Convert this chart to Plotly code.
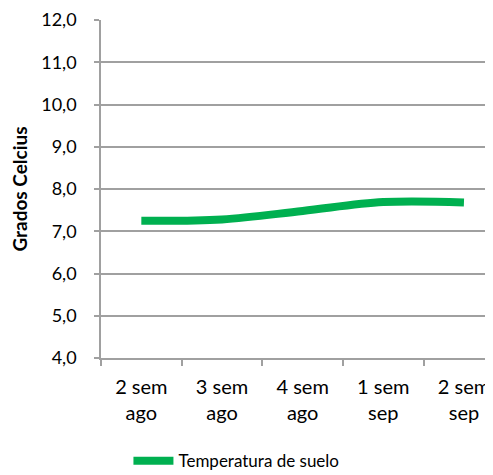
import plotly.graph_objects as go

categories = ["2 sem<br>ago", "3 sem<br>ago", "4 sem<br>ago", "1 sem<br>sep", "2 sem<br>sep"]
temperatura = [7.25, 7.28, 7.48, 7.69, 7.68]
series_name = "Temperatura de suelo"

FONT = "Lato"
GRID = "#A0A0A0"

fig = go.Figure()
fig.add_trace(go.Scatter(
    x=categories, y=temperatura, mode="lines", name=series_name,
    line=dict(color="#00B050", width=8, shape="spline", smoothing=1.0),
))

# page body has an 8px margin, so the figure is 8px smaller and margins shifted
fig.update_layout(
    width=485, height=467,
    margin=dict(l=93, r=0, t=12, b=117, autoexpand=False),
    paper_bgcolor="white", plot_bgcolor="white",
    separators=",.",
    font=dict(family=FONT, color="#000000"),
    showlegend=True,
    legend=dict(orientation="h", x=0.07, xanchor="left", y=-0.305, yanchor="middle",
                font=dict(family=FONT, size=17), itemwidth=40,
                bgcolor="rgba(0,0,0,0)", tracegroupgap=0),
    xaxis=dict(
        type="category", range=[-0.5, 4.36], showgrid=False, automargin=False,
        showline=True, linecolor=GRID, linewidth=1.5,
        ticks="outside", tickson="boundaries", ticklen=6, tickcolor=GRID, tickwidth=1.5,
        tickfont=dict(family=FONT, size=20), tickangle=0, ticklabelstandoff=10,
    ),
    yaxis=dict(
        range=[4, 12], dtick=1, tick0=4, tickformat=".1f", automargin=False,
        showgrid=True, gridcolor=GRID, gridwidth=1.5,
        showline=True, linecolor=GRID, linewidth=1.5,
        ticks="outside", ticklen=5, tickcolor=GRID, tickwidth=1.5,
        tickfont=dict(family=FONT, size=18), ticklabelstandoff=14,
        title=dict(text="<b>Grados Celcius</b>", font=dict(family=FONT, size=19), standoff=18),
        zeroline=False,
    ),
)

fig.write_html("out.html")
